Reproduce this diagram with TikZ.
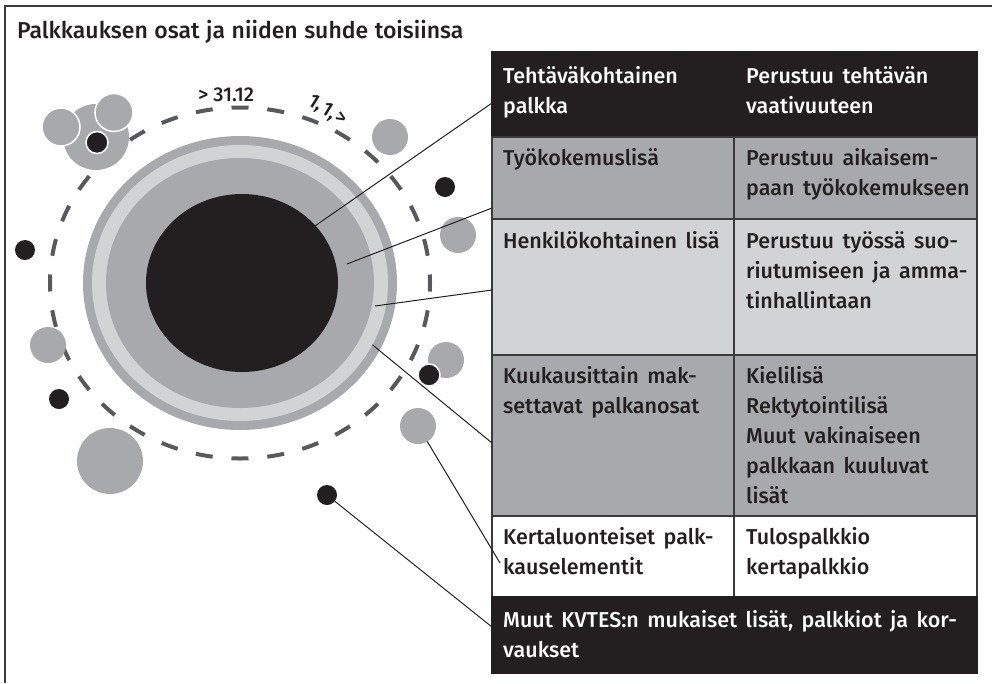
\documentclass[tikz,border=0pt]{standalone}
\usepackage{fontspec}
\setmainfont{Fira Sans}[UprightFont={* Medium}]
\usetikzlibrary{shapes.geometric}
\definecolor{ink}{HTML}{231F20}
\definecolor{midgrey}{HTML}{A7A9AC}
\definecolor{palegrey}{HTML}{D1D3D4}
\definecolor{dashgrey}{HTML}{58595B}
\definecolor{framegrey}{HTML}{3A3A3C}
\newcommand{\cellstrut}{\rule{0pt}{20pt}}
\newcommand{\cellfont}{\fontsize{21.5}{30}\selectfont\spaceskip=8.5pt plus 1pt\relax}
\newcommand{\titlefont}{\fontsize{23}{28}\selectfont\spaceskip=6.5pt plus 1pt\relax}

\begin{document}
\begin{tikzpicture}[x=1pt,y=-1pt,
  oval/.style={ellipse,inner sep=0pt,outer sep=0pt},
  gdot/.style={circle,fill=midgrey,inner sep=0pt,outer sep=0pt,minimum size=36pt},
  bdot/.style={circle,fill=ink,inner sep=0pt,outer sep=0pt,minimum size=20pt},
  cut/.style={draw=white,line width=1.5pt},
  cell/.style={anchor=north west,draw=framegrey,line width=2pt,inner sep=0pt,outer sep=0pt,minimum height=#1},
  txt/.style={anchor=north west,inner sep=0pt,align=left,text=ink,font=\cellfont},
  lead/.style={line width=1pt,draw=ink}]
\useasboundingbox (0,0) rectangle (992,683);
\draw[framegrey,line width=2pt] (5,683) -- (5,6) -- (992,6);
\node[anchor=base west,inner sep=0pt,text=ink,font=\titlefont] (title) at (17,38) {Palkkauksen osat ja niiden suhde toisiinsa};

% rings
\node[oval,fill=midgrey,minimum width=314pt,minimum height=294pt] (rim) at (240,283) {};
\node[oval,fill=palegrey,minimum width=296pt,minimum height=276pt] (ring) at (240,283) {};
\node[oval,fill=midgrey,minimum width=268pt,minimum height=250pt] (band) at (240,283) {};
\node[oval,fill=ink,minimum width=192pt,minimum height=178pt] (core) at (242,283) {};
\coordinate (bandpt) at (347,264);
\coordinate (ringpt) at (375,306);
\draw[dashgrey,line width=4pt,dash pattern=on 17pt off 18.9pt,dash phase=8.5pt]
  (240,283) ellipse [x radius=190pt,y radius=175.5pt];
\node[text=ink,font=\fontsize{20}{20}\selectfont] (endyr) at (226,95) {> 31.12};
\node[text=ink,font=\fontsize{20}{20}\selectfont,rotate=-32] (newyr) at (327,111) {1,\kern2pt{}1,\kern2pt{}>};

% loose parts
\node[gdot,minimum size=66pt] (cl) at (96,137) {};
\node[gdot,cut,minimum size=38pt] (cla) at (61,127) {};
\node[gdot,cut,minimum size=38pt] (clb) at (114,112.5) {};
\node[bdot,cut,minimum size=22pt] (clc) at (97,142.5) {};
\foreach \pos/\name in {(390,137)/g1,(458,235)/g2,(48,345)/g3,(446,360)/g4,(418,426)/g5}
  \node[gdot] (\name) at \pos {};
\node[gdot,minimum size=66pt] (g6) at (110,461) {};
\foreach \pos/\name in {(445,187)/b1,(25,250)/b2,(59,399)/b4,(327,495)/b5}
  \node[bdot] (\name) at \pos {};
\node[bdot,cut,minimum size=22pt] (b3) at (429,375) {};

% table
\node[cell=85pt,draw=ink,fill=ink,minimum width=242pt] (hdrL) at (492,52) {};
\node[cell=85pt,draw=ink,fill=ink,minimum width=243pt] (hdrR) at (734,52) {};
\node[cell=82pt,fill=midgrey,minimum width=242pt] (tyoL) at (492,137) {};
\node[cell=82pt,fill=midgrey,minimum width=243pt] (tyoR) at (734,137) {};
\node[cell=136pt,fill=palegrey,minimum width=242pt] (henkL) at (492,219) {};
\node[cell=136pt,fill=palegrey,minimum width=243pt] (henkR) at (734,219) {};
\node[cell=161pt,fill=midgrey,minimum width=242pt] (kuuL) at (492,355) {};
\node[cell=161pt,fill=midgrey,minimum width=243pt] (kuuR) at (734,355) {};
\node[cell=81pt,fill=white,minimum width=242pt] (kertL) at (492,516) {};
\node[cell=81pt,fill=white,minimum width=243pt] (kertR) at (734,516) {};
\node[cell=76pt,draw=ink,fill=ink,minimum width=485pt] (muutL) at (492,597) {};

\node[txt,text=white] at ([xshift=11pt,yshift=-11pt]hdrL.north west) {\cellstrut Tehtäväkohtainen\\palkka};
\node[txt,text=white] at ([xshift=12pt,yshift=-11pt]hdrR.north west) {\cellstrut Perustuu tehtävän\\vaativuuteen};
\node[txt] at ([xshift=11pt,yshift=-8pt]tyoL.north west) {\cellstrut Työkokemuslisä};
\node[txt] at ([xshift=12pt,yshift=-8pt]tyoR.north west) {\cellstrut Perustuu aikaisem-\\paan työkokemukseen};
\node[txt] at ([xshift=11pt,yshift=-9pt]henkL.north west) {\cellstrut Henkilökohtainen lisä};
\node[txt] at ([xshift=12pt,yshift=-9pt]henkR.north west) {\cellstrut Perustuu työssä suo-\\riutumiseen ja amma-\\tinhallintaan};
\node[txt] at ([xshift=11pt,yshift=-8pt]kuuL.north west) {\cellstrut Kuukausittain mak-\\settavat palkanosat};
\node[txt] at ([xshift=12pt,yshift=-8pt]kuuR.north west) {\cellstrut Kielilisä\\Rektytointilisä\\Muut vakinaiseen\\palkkaan kuuluvat\\lisät};
\node[txt] at ([xshift=11pt,yshift=-8pt]kertL.north west) {\cellstrut Kertaluonteiset palk-\\kauselementit};
\node[txt] at ([xshift=12pt,yshift=-8pt]kertR.north west) {\cellstrut Tulospalkkio\\kertapalkkio};
\node[txt,text=white] at ([xshift=11pt,yshift=-10pt]muutL.north west) {\cellstrut Muut KVTES:n mukaiset lisät, palkkiot ja kor-\\vaukset};

% leaders
\draw[lead] (core.38) -- ([yshift=-8.5pt]hdrL.west);
\draw[lead] (bandpt) -- ([yshift=-30pt]tyoL.west);
\draw[lead] (ringpt) -- ([yshift=-3pt]henkL.west);
\draw[lead] (ring.-25) -- ([yshift=-7.5pt]kuuL.west);
\draw[lead] (g5) -- ([xshift=8pt,yshift=-6.5pt]kertL.west);
\draw[lead] (b5) -- ([yshift=8pt]muutL.west);
\end{tikzpicture}
\end{document}
